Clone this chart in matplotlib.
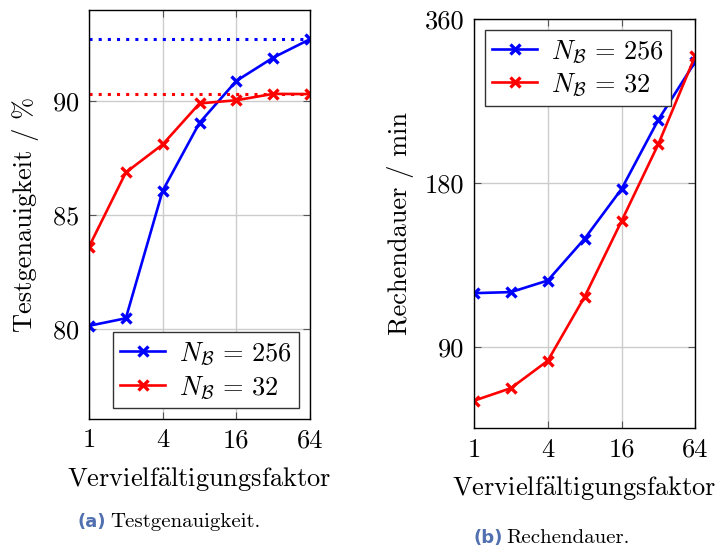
import matplotlib
matplotlib.use('Agg')
import matplotlib.pyplot as plt

plt.rcParams['font.family'] = ['cmr10', 'DejaVu Serif']
plt.rcParams['mathtext.fontset'] = 'cm'
plt.rcParams['axes.formatter.use_mathtext'] = True

faktor = [1, 2, 4, 8, 16, 32, 64]

# Testgenauigkeit in %
acc_256 = [80.14, 80.47, 86.07, 89.05, 90.89, 91.91, 92.72]
acc_32 = [83.61, 86.87, 88.10, 89.90, 90.04, 90.32, 90.31]
acc_256_ref = 92.73
acc_32_ref = 90.31

# Rechendauer in min
zeit_256 = [112.9, 113.4, 119.1, 142.2, 175.5, 235.4, 301.0]
zeit_32 = [71.6, 75.5, 84.8, 111.2, 153.2, 212.4, 308.6]

lab_256 = r'$N_{\mathcal{B}} \,=\, 256$'
lab_32 = r'$N_{\mathcal{B}} \,=\, 32$'
xlab = r'$\mathrm{Vervielf\ddot{a}ltigungsfaktor}$'

fs = 19

fig = plt.figure(figsize=(7.23, 5.47), dpi=100)
ax1 = fig.add_axes([0.1231, 0.234, 0.3057, 0.7477])
ax2 = fig.add_axes([0.6556, 0.217, 0.3061, 0.7477])

style = dict(linewidth=1.9, marker='x', markersize=7.5, markeredgewidth=2.4)

ax1.plot(faktor, acc_256, color='#0000ff', label=lab_256, **style)
ax1.plot(faktor, acc_32, color='#ff0000', label=lab_32, **style)
ax1.axhline(acc_256_ref, color='#0000ff', linestyle=(0, (1, 2)), linewidth=2.2)
ax1.axhline(acc_32_ref, color='#ff0000', linestyle=(0, (1, 2)), linewidth=2.2)
ax1.set_ylim(76.05, 94.0)
ax1.set_yticks([80, 85, 90])
ax1.set_ylabel('Testgenauigkeit / %', fontsize=fs, labelpad=9)

ax2.plot(faktor, zeit_256, color='#0000ff', label=lab_256, **style)
ax2.plot(faktor, zeit_32, color='#ff0000', label=lab_32, **style)
ax2.set_yscale('log', base=2)
ax2.set_ylim(63.7, 360)
ax2.set_yticks([90, 180, 360])
ax2.set_yticklabels(['90', '180', '360'])
ax2.minorticks_off()
ax2.set_ylabel('Rechendauer / min', fontsize=fs, labelpad=8)

for ax in (ax1, ax2):
    ax.set_xscale('log', base=2)
    ax.set_xlim(1, 64)
    ax.set_xticks([1, 4, 16, 64])
    ax.set_xticklabels(['1', '4', '16', '64'])
    ax.minorticks_off()
    ax.grid(True, color='#cccccc', linewidth=1)
    ax.tick_params(direction='in', top=True, right=True, labelsize=fs,
                   length=5, color='#555555', pad=7)
    ax.set_xlabel(xlab, fontsize=fs, labelpad=9)
    for s in ax.spines.values():
        s.set_linewidth(1.0)

ax1.legend(loc='lower right', fontsize=fs, fancybox=False, edgecolor='#333333',
           framealpha=1, borderaxespad=0.4, handlelength=1.7, labelspacing=0.25,
           borderpad=0.3, handletextpad=0.5)
ax2.legend(loc='upper left', fontsize=fs, fancybox=False, edgecolor='#333333',
           framealpha=1, borderaxespad=0.4, handlelength=1.7, labelspacing=0.25,
           borderpad=0.3, handletextpad=0.5)

cap_color = '#5070b0'
fig.text(0.146, 0.045, '(a)', ha='right', va='center', fontsize=13,
         family='DejaVu Sans', weight='bold', color=cap_color)
fig.text(0.152, 0.045, 'Testgenauigkeit.', ha='left', va='center', fontsize=15)
fig.text(0.696, 0.017, '(b)', ha='right', va='center', fontsize=13,
         family='DejaVu Sans', weight='bold', color=cap_color)
fig.text(0.700, 0.017, 'Rechendauer.', ha='left', va='center', fontsize=15)

fig.savefig('out.png', dpi=100)
